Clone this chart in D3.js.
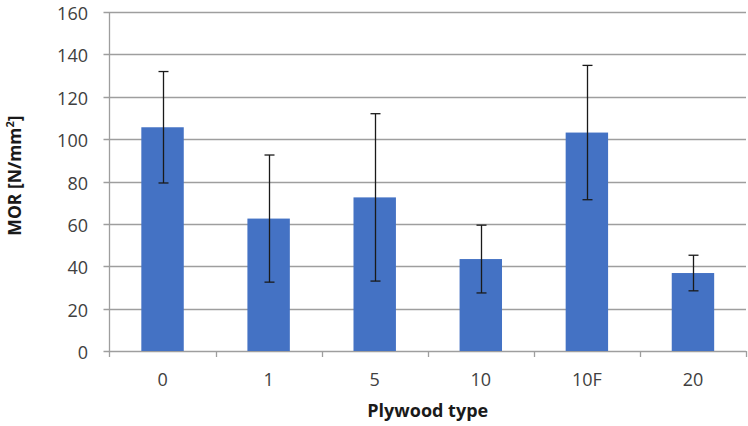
<!DOCTYPE html>
<html>
<head>
<meta charset="utf-8">
<script src="https://cdn.jsdelivr.net/npm/d3@7"></script>
<style>
  html, body { margin: 0; padding: 0; background: #fff; }
  svg { display: block; font-family: "Open Sans", "Segoe UI", sans-serif; }
</style>
</head>
<body>
<svg id="chart" width="748" height="426"></svg>
<script>
// MOR by plywood type, mean with standard deviation
const categories = ["0", "1", "5", "10", "10F", "20"];
const morMean = [105.6, 62.5, 72.5, 43.4, 103.1, 36.8];
const morStd = [26.3, 30.0, 39.5, 16.0, 31.7, 8.4];
const yTicks = [0, 20, 40, 60, 80, 100, 120, 140, 160];

const svg = d3.select("#chart");
const margin = { left: 109.5, right: 2, top: 12, bottom: 75 };
const W = 748, H = 426;

const x = d3.scaleBand()
  .domain(categories)
  .range([margin.left, W - margin.right])
  .paddingInner(0.6)
  .paddingOuter(0.3);

const xb = d3.scaleBand().domain(categories).range([margin.left, W - margin.right]);

const y = d3.scaleLinear().domain([0, 160]).range([H - margin.bottom, margin.top]);

const gridColor = "#9e9e9e";
const textColor = "#404040";

// horizontal gridlines with short outside ticks
svg.append("g")
  .selectAll("line")
  .data(yTicks)
  .join("line")
  .attr("x1", margin.left - 6)
  .attr("x2", W - margin.right)
  .attr("y1", d => Math.round(y(d)) + 0.5)
  .attr("y2", d => Math.round(y(d)) + 0.5)
  .attr("stroke", gridColor)
  .attr("stroke-width", 1.3);

// y tick labels
svg.append("g")
  .selectAll("text")
  .data(yTicks)
  .join("text")
  .attr("x", 88)
  .attr("y", d => y(d) + 8)
  .attr("text-anchor", "end")
  .attr("font-size", 18)
  .attr("fill", textColor)
  .text(d => d);

// vertical axis line
svg.append("line")
  .attr("x1", margin.left).attr("x2", margin.left)
  .attr("y1", y(160)).attr("y2", y(0) + 6)
  .attr("stroke", gridColor).attr("stroke-width", 1.3);

// category boundary ticks on the x axis
const bounds = categories.map(c => xb(c) + xb.bandwidth());
svg.append("g")
  .selectAll("line")
  .data(bounds)
  .join("line")
  .attr("x1", d => Math.round(d) + 0.5)
  .attr("x2", d => Math.round(d) + 0.5)
  .attr("y1", y(0))
  .attr("y2", y(0) + 6)
  .attr("stroke", gridColor)
  .attr("stroke-width", 1.3);

// bars
svg.append("g")
  .selectAll("rect")
  .data(categories)
  .join("rect")
  .attr("x", c => x(c))
  .attr("width", x.bandwidth())
  .attr("y", (c, i) => y(morMean[i]))
  .attr("height", (c, i) => y(0) - y(morMean[i]))
  .attr("fill", "#4472C4");

// error bars
const cap = 5;
const eb = svg.append("g").attr("stroke", "#1a1a1a").attr("stroke-width", 1.3);
categories.forEach((c, i) => {
  const cx = Math.round(x(c) + x.bandwidth() / 2) + 0.5;
  const hi = y(morMean[i] + morStd[i]);
  const lo = y(morMean[i] - morStd[i]);
  eb.append("line").attr("x1", cx).attr("x2", cx).attr("y1", hi).attr("y2", lo);
  eb.append("line").attr("x1", cx - cap).attr("x2", cx + cap).attr("y1", hi).attr("y2", hi);
  eb.append("line").attr("x1", cx - cap).attr("x2", cx + cap).attr("y1", lo).attr("y2", lo);
});

// x tick labels
svg.append("g")
  .selectAll("text")
  .data(categories)
  .join("text")
  .attr("x", c => x(c) + x.bandwidth() / 2)
  .attr("y", y(0) + 29)
  .attr("dy", "0.35em")
  .attr("text-anchor", "middle")
  .attr("font-size", 18)
  .attr("fill", textColor)
  .text(c => c);

// axis titles
svg.append("text")
  .attr("x", (margin.left + W - margin.right) / 2)
  .attr("y", 411)
  .attr("dy", "0.35em")
  .attr("text-anchor", "middle")
  .attr("font-size", 18)
  .attr("font-weight", "bold")
  .attr("fill", "#1a1a1a")
  .text("Plywood type");

const yt = svg.append("text")
  .attr("transform", `translate(15,${(y(0) + y(160)) / 2 - 6}) rotate(-90)`)
  .attr("dy", "0.35em")
  .attr("text-anchor", "middle")
  .attr("font-size", 17.5)
  .attr("font-weight", "bold")
  .attr("fill", "#1a1a1a");
yt.append("tspan").text("MOR [N/mm");
yt.append("tspan").attr("baseline-shift", "super").attr("font-size", 11).text("2");
yt.append("tspan").text("]");
</script>
</body>
</html>
